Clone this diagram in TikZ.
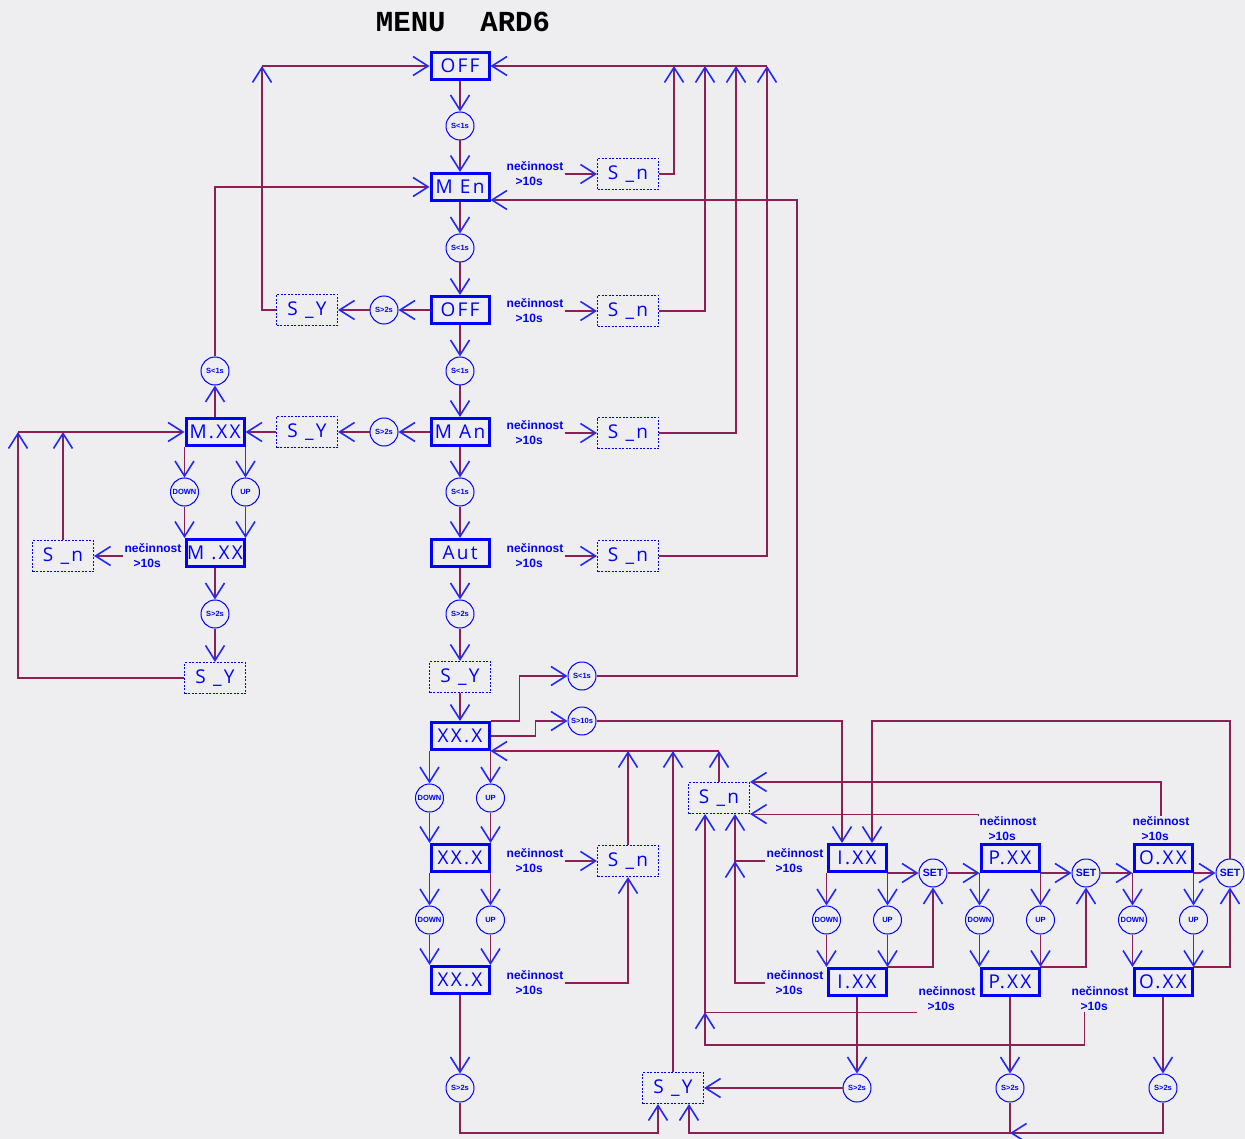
\documentclass[tikz,border=0pt]{standalone}
\usepackage{fontspec}
\usetikzlibrary{arrows.meta,shapes,positioning,calc}

\newfontfamily\boxfont[LetterSpace=12]{Open Sans}
\newfontfamily\lblfont{Liberation Sans}
\newfontfamily\ttlfont{Liberation Mono}

\definecolor{wirec}{RGB}{140,32,82}
\definecolor{bgc}{RGB}{238,238,240}
\definecolor{arrc}{RGB}{30,40,255}

\newcommand{\necin}{nečinnost\\\hspace*{9pt}>10s}

\tikzset{
  wire/.style={draw=wirec, line width=1.1pt},
  arr/.style={wire, -{Straight Barb[length=15pt,width=19pt,line width=1.6pt,color=arrc]}},
  dispbox/.style={draw=blue, line width=3pt, minimum width=58pt, minimum height=27pt,
    inner sep=0pt, text=blue, font=\boxfont\fontsize{19}{21}\selectfont},
  swbox/.style={draw=blue, line width=1.1pt, dash pattern=on 2pt off 1.5pt,
    minimum width=61pt, minimum height=31pt, inner sep=0pt, text=blue,
    font=\boxfont\fontsize{19}{21}\selectfont},
  tbubble/.style={circle, draw=blue, line width=1pt, minimum size=28pt, inner sep=0pt,
    text=blue, font=\lblfont\bfseries\fontsize{7.5}{8}\selectfont},
  setbubble/.style={tbubble, font=\lblfont\bfseries\fontsize{10.5}{11}\selectfont},
  idlelbl/.style={text=blue, align=left, inner sep=1pt,
    font=\lblfont\bfseries\fontsize{12}{15}\selectfont},
}

\begin{document}
\begin{tikzpicture}[x=1pt,y=-1pt]
  \useasboundingbox (0,0) rectangle (1245,1139);
  \fill[bgc] (0,0) rectangle (1245,1139);
  \clip (0,0) rectangle (1245,1139);

  \node[font=\ttlfont\bfseries\fontsize{29}{31}\selectfont] (title) at (463,22) {MENU\ \ ARD6};

  % main menu column
  \node[dispbox] (off1) at (460,66) {OFF};
  \node[tbubble] (c1) at (460,126) {S<1s};
  \node[dispbox] (men) at (460,187) {M En};
  \node[tbubble] (c2) at (460,248) {S<1s};
  \node[dispbox] (off2) at (460,310) {OFF};
  \node[tbubble] (c3) at (460,371) {S<1s};
  \node[dispbox] (man) at (460,432) {M An};
  \node[tbubble] (c4) at (460,492) {S<1s};
  \node[dispbox] (aut) at (460,553) {Aut};
  \node[tbubble] (c5) at (460,614) {S>2s};
  \node[swbox] (sy) at (460,677) {S \_Y};
  \node[dispbox] (xx1) at (460,736) {XX.X};
  \node[tbubble] (xd1) at (xx1.south west |- 0,798) {DOWN};
  \node[tbubble] (xu1) at (xx1.south east |- 0,798) {UP};
  \node[dispbox] (xx2) at (460,858) {XX.X};
  \node[tbubble] (xd2) at (xx2.south west |- 0,920) {DOWN};
  \node[tbubble] (xu2) at (xx2.south east |- 0,920) {UP};
  \node[dispbox] (xx3) at (460,980) {XX.X};
  \node[tbubble] (xs) at (460,1088) {S>2s};

  % idle timeouts on the right
  \node[idlelbl] (lb1) at (535,174) {\necin};
  \node[swbox] (sn1) at (628,174) {S \_n};
  \node[idlelbl] (lb2) at (535,311) {\necin};
  \node[swbox] (sn2) at (628,311) {S \_n};
  \node[idlelbl] (lb3) at (535,433) {\necin};
  \node[swbox] (sn3) at (628,433) {S \_n};
  \node[idlelbl] (lb4) at (535,556) {\necin};
  \node[swbox] (sn4) at (628,556) {S \_n};
  \node[idlelbl] (lb5) at (535,861) {\necin};
  \node[swbox] (sn5) at (628,861) {S \_n};
  \node[idlelbl] (lb6) at (535,983) {\necin};
  \coordinate (rt1) at (674,66);
  \coordinate (rt2) at (705,66);
  \coordinate (rt3) at (736,66);
  \coordinate (rt4) at (767,66);

  % left branch
  \node[tbubble] (cl1) at (384,310) {S>2s};
  \node[swbox] (syA) at (307,310) {S \_Y};
  \node[tbubble] (cl2) at (384,432) {S>2s};
  \node[swbox] (syB) at (307,432) {S \_Y};
  \coordinate (lt0) at (262,66);
  \node[dispbox] (mxx1) at (215,432) {M.XX};
  \node[tbubble] (mc) at (215,371) {S<1s};
  \node[tbubble] (md) at (mxx1.south west |- 0,492) {DOWN};
  \node[tbubble] (mu) at (mxx1.south east |- 0,492) {UP};
  \node[dispbox] (mxx2) at (215,553) {M .XX};
  \node[idlelbl] (mlb) at (153,556) {\necin};
  \node[swbox] (snL) at (63,556) {S \_n};
  \node[tbubble] (ms) at (215,614) {S>2s};
  \node[swbox] (syL) at (215,678) {S \_Y};
  \coordinate (lt1) at (18,432);

  % setting branch
  \node[tbubble] (sc1) at (582,676) {S<1s};
  \node[tbubble] (sc2) at (582,721) {S>10s};
  \coordinate (mr) at (797,200);
  \node[swbox] (sn6) at (719,798) {S \_n};
  \node[swbox] (syD) at (673,1088) {S \_Y};
  \node[dispbox] (ix1) at (857,858) {I.XX};
  \node[dispbox] (ix2) at (857,982) {I.XX};
  \node[dispbox] (px1) at (1010,858) {P.XX};
  \node[dispbox] (px2) at (1010,982) {P.XX};
  \node[dispbox] (ox1) at (1163,858) {O.XX};
  \node[dispbox] (ox2) at (1163,982) {O.XX};
  \node[tbubble] (id) at (ix1.south west |- 0,920) {DOWN};
  \node[tbubble] (iu) at (ix1.south east |- 0,920) {UP};
  \node[tbubble] (pd) at (px1.south west |- 0,920) {DOWN};
  \node[tbubble] (pu) at (px1.south east |- 0,920) {UP};
  \node[tbubble] (od) at (ox1.south west |- 0,920) {DOWN};
  \node[tbubble] (ou) at (ox1.south east |- 0,920) {UP};
  \node[setbubble] (set1) at (933,873) {SET};
  \node[setbubble] (set2) at (1086,873) {SET};
  \node[setbubble] (set3) at (1230,873) {SET};
  \node[tbubble] (is) at (857,1088) {S>2s};
  \node[tbubble] (ps) at (1010,1088) {S>2s};
  \node[tbubble] (os) at (1163,1088) {S>2s};
  \node[idlelbl] (ilb1) at (795,861) {\necin};
  \node[idlelbl] (ilb2) at (795,983) {\necin};
  \node[idlelbl] (plb1) at (1008,829) {\necin};
  \node[idlelbl] (olb1) at (1161,829) {\necin};
  \node[idlelbl] (plb2) at (947,999) {\necin};
  \node[idlelbl] (olb2) at (1100,999) {\necin};
  \coordinate (j1) at (735,861);
  \coordinate (b2) at (705,1045);
  \coordinate (bj) at (1010,1133);

  % connectors
  \foreach \a/\b in {off1/c1,c1/men,men/c2,c2/off2,off2/c3,c3/man,man/c4,c4/aut,aut/c5,
      c5/sy,sy/xx1,xx3/xs,mxx2/ms,ms/syL,ix2/is,px2/ps,ox2/os}
    \draw[arr] (\a.south) -- (\b.north);
  \foreach \ba/\bd/\bu/\bn in {xx1/xd1/xu1/xx2,xx2/xd2/xu2/xx3,mxx1/md/mu/mxx2,
      ix1/id/iu/ix2,px1/pd/pu/px2,ox1/od/ou/ox2} {
    \draw[arr] (\ba.south west) -- (\bd.north);
    \draw[arr] (\bd.south) -- (\bn.north west);
    \draw[arr] (\ba.south east) -- (\bu.north);
    \draw[arr] (\bu.south) -- (\bn.north east);
  }
  \foreach \l/\s in {lb1/sn1,lb2/sn2,lb3/sn3,lb4/sn4,lb5/sn5}
    \draw[arr] (\l.east) -- (\s.west);
  \foreach \s/\r in {sn1/rt1,sn2/rt2,sn3/rt3,sn4/rt4}
    \draw[arr] (\s.east) -| (\r);
  \draw[arr] (rt4) -- (off1.east);

  \draw[arr] (off2.west) -- (cl1.east);
  \draw[arr] (cl1.west) -- (syA.east);
  \draw[arr] (syA.west) -| (lt0);
  \draw[arr] (lt0) -- (off1.west);
  \draw[arr] (man.west) -- (cl2.east);
  \draw[arr] (cl2.west) -- (syB.east);
  \draw[arr] (syB.west) -- (mxx1.east);
  \draw[arr] (mxx1.north) -- (mc.south);
  \draw[arr] (mc.north) |- (men.west);
  \draw[arr] (mlb.west) -- (snL.east);
  \draw[arr] (snL.north) -- (snL.north |- lt1);
  \draw[arr] (syL.west) -| (lt1);
  \draw[arr] (lt1) -- (mxx1.west);

  \draw[arr] (xx1.north east) -- ++(29,0) |- (sc1.west);
  \draw[arr] (xx1.east) -- ++(45,0) |- (sc2.west);
  \draw[arr] (sc1.east) -| (mr) -- (mr -| men.east);
  \draw[arr] (sc2.east) -| ([xshift=-15pt]ix1.north);
  \draw[arr] (set3.north) -- (set3.north |- sc2.east) -| ([xshift=15pt]ix1.north);
  \draw[arr] (lb6.east) -| (sn5.south);
  \foreach \s in {sn5,syD,sn6}
    \draw[arr] (\s.north) -- (\s.north |- xx1.south east);
  \draw[arr] (sn6.north |- xx1.south east) -- (xx1.south east);

  \foreach \a/\b in {ix1/set1,px1/set2,ox1/set3}
    \draw[arr] (\a.south east) -- (\b.west);
  \foreach \a/\b in {set1/px1,set2/ox1}
    \draw[arr] (\a.east) -- (\b.south west);
  \foreach \a/\b in {ix2/set1,px2/set2,ox2/set3}
    \draw[arr] (\a.north east) -| (\b.south);

  \draw[arr] (olb1.north) |- (sn6.north east);
  \draw[arr] (plb1.north west) |- (sn6.south east);
  \draw[arr] (ilb1.west) -| ([xshift=16pt]sn6.south);
  \draw[arr] (ilb2.west) -| (j1);
  \draw[arr] (plb2.south west) -| ([xshift=-14pt]sn6.south);
  \draw[arr] ([xshift=14pt]olb2.south west) |- (b2) -- (b2 |- plb2.south west);

  \draw[arr] (is.west) -- (syD.east);
  \draw[arr] (os.south) |- (bj);
  \draw[arr] (ps.south) -- (bj) -| ([xshift=16pt]syD.south);
  \draw[arr] (xs.south) -- (xs.south |- bj) -| ([xshift=-15pt]syD.south);
\end{tikzpicture}
\end{document}
